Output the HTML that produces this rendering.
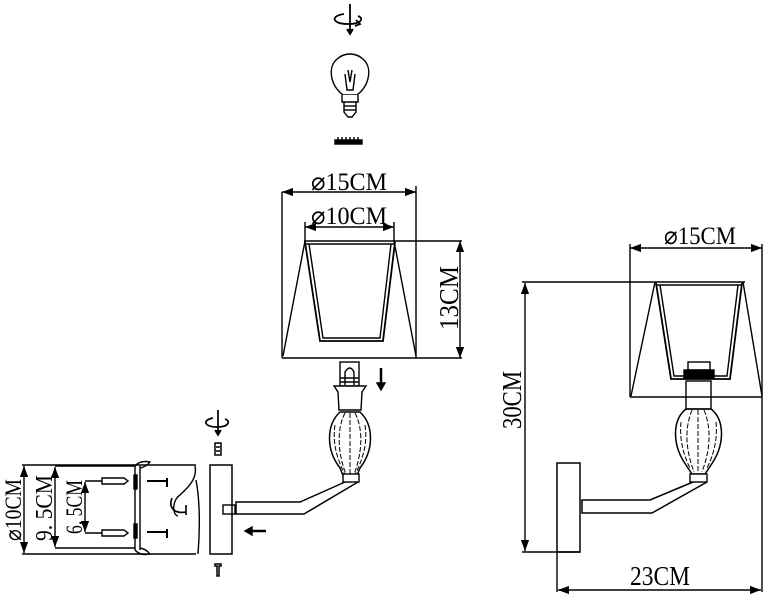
<!DOCTYPE html>
<html><head><meta charset="utf-8"><style>
html,body{margin:0;padding:0;background:#fff;}
svg{display:block;}
text{font-family:"Liberation Serif",serif;fill:#000;}
</style></head><body>
<svg width="767" height="600" viewBox="0 0 767 600" xmlns="http://www.w3.org/2000/svg" fill="none" stroke="#000" stroke-width="1.4">
<defs>
<marker id="a" markerWidth="8" markerHeight="6" refX="8" refY="3" orient="auto-start-reverse"><path d="M0,0 L8,3 L0,6 Z" fill="#000" stroke="none"/></marker>
</defs>

<!-- top rotate icon + bulb -->
<g stroke-width="1.8">
<line x1="350" y1="4" x2="350" y2="32"/>
<path d="M344,14 C330,16 332,24 348,24 C362,24 364,18 358,16"/>
<path d="M356,20 l4,4 l-5,2"/>
<path d="M347,29 L350,34 L353,29" fill="#000"/>
</g>
<path d="M343,95 C330,85 328,68 336,60 C344,52 356,52 364,60 C372,68 370,85 357,95 Z" stroke-width="1.4"/>
<path d="M342,95 L342,102 L358,102 L358,95" fill="#fff"/>
<path d="M344,102 L344,112 L348,117 L352,117 L356,112 L356,102"/>
<line x1="344" y1="106" x2="356" y2="106"/><line x1="344" y1="110" x2="356" y2="110"/>
<path d="M345,74 L347,90 L353,90 L355,74 M348,70 L350,82 L352,70"/>
<rect x="335" y="140" width="27" height="4" fill="#000"/>
<path d="M338,140 v-3 M342,140 v-3 M346,140 v-3 M350,140 v-3 M354,140 v-3 M358,140 v-3"/>

<!-- middle shade -->
<line x1="282" y1="192" x2="416" y2="192" marker-start="url(#a)" marker-end="url(#a)"/>
<line x1="282" y1="192" x2="282" y2="358"/>
<line x1="416" y1="186" x2="416" y2="358"/>
<line x1="282" y1="358" x2="462" y2="358" stroke-width="1.6"/>
<line x1="305" y1="227" x2="394" y2="227" marker-start="url(#a)" marker-end="url(#a)"/>
<line x1="305" y1="222" x2="305" y2="241"/><line x1="394" y1="222" x2="394" y2="241"/>
<line x1="304" y1="241" x2="462" y2="241"/>
<line x1="306" y1="244" x2="394" y2="244"/>
<line x1="460" y1="241" x2="460" y2="358" marker-start="url(#a)" marker-end="url(#a)"/>
<path d="M305,241 L283,356 M394,241 L416,356"/>
<path d="M305,242 L320,341 L383,341 L395,242" stroke-width="1.8"/>
<path d="M309,244 L323,338 L380,338 L391,244"/>
<text x="349" y="190" font-size="25" text-anchor="middle" stroke="none" textLength="76" lengthAdjust="spacingAndGlyphs">⌀15CM</text>
<text x="349" y="224" font-size="25" text-anchor="middle" stroke="none" textLength="76" lengthAdjust="spacingAndGlyphs">⌀10CM</text>
<text transform="translate(458,298) rotate(-90)" font-size="27" text-anchor="middle" stroke="none" textLength="64" lengthAdjust="spacingAndGlyphs">13CM</text>

<!-- middle socket + glass -->
<rect x="340" y="362" width="19" height="24"/>
<path d="M345,385 V372 q5,-8 9,0 V385"/>
<line x1="340" y1="378" x2="359" y2="378"/><line x1="340" y1="382" x2="359" y2="382"/>
<path d="M334,386 L366,386 L362,392 L361,410 L339,410 L338,392 Z" fill="#fff"/>
<line x1="381" y1="368" x2="381" y2="384" stroke-width="2.5"/>
<path d="M377,383 L381,390 L385,383 Z" fill="#000"/>
<path d="M340,412 C326,425 326,450 340,468 L344,478 L356,478 L360,468 C374,450 374,425 360,412 Z" stroke-width="1.5"/>
<path d="M345,413 C336,430 338,455 347,477 M355,413 C364,430 362,455 353,477 M350,413 V477 M335,425 C332,445 338,460 345,475 M365,425 C368,445 362,460 355,475" stroke-dasharray="5 2" stroke-width="1"/>
<rect x="343" y="474" width="16" height="8" fill="#fff"/>

<!-- arm middle -->
<path d="M345,482 L300,502 L236,502 L236,514 L304,514 L358,482" stroke-width="1.5"/>
<rect x="223" y="505" width="12" height="9"/>
<rect x="210" y="465" width="22" height="89" stroke-width="1.5"/>
<line x1="248" y1="531" x2="266" y2="531" stroke-width="2.5"/>
<path d="M252,527 L245,531 L252,535 Z" fill="#000"/>
<g stroke-width="1.7">
<line x1="218" y1="410" x2="218" y2="434"/>
<path d="M213,418 C202,420 204,427 217,427 C229,427 231,421 225,419"/>
<path d="M215,430 L218,435 L221,430" fill="#000"/>
</g>
<path d="M215,443 h6 v12 h-6 z M216,447 h4 M216,451 h4" stroke-width="1.5"/>
<path d="M215,564 h6 v2 h-2 v10 h-2 v-10 h-2 z" stroke-width="1.5"/>

<!-- left detail -->
<line x1="22" y1="465" x2="196" y2="465" stroke-width="1.5"/>
<line x1="22" y1="554" x2="196" y2="554" stroke-width="1.5"/>
<line x1="24" y1="466" x2="24" y2="553" marker-start="url(#a)" marker-end="url(#a)"/>
<line x1="55" y1="467" x2="55" y2="547" marker-start="url(#a)" marker-end="url(#a)"/>
<line x1="55" y1="466" x2="135" y2="466"/><line x1="55" y1="548" x2="135" y2="548"/>
<line x1="85" y1="482" x2="85" y2="532" marker-start="url(#a)" marker-end="url(#a)"/>
<line x1="85" y1="481" x2="102" y2="481"/><line x1="85" y1="533" x2="102" y2="533"/>
<path d="M102,478 h22 l4,3 l-4,3 h-22 z M102,530 h22 l4,3 l-4,3 h-22 z"/>
<path d="M135,466 V550 M140,466 V550 M135,466 q5,-6 15,-4 q-4,5 -10,6 M135,550 q5,6 15,4 q-4,-5 -10,-6"/>
<rect x="134" y="475" width="3" height="14" fill="#000"/>
<rect x="134" y="524" width="3" height="14" fill="#000"/>
<path d="M147,481 h20 v-3 v9 v-3 M147,532 h20 v-3 v9 v-3" stroke-width="2"/>
<path d="M195,466 C198,480 185,490 180,495 C172,500 172,515 178,516"/>
<path d="M172,498 C168,508 175,514 186,512 M186,505 v10" stroke-width="1.6"/>
<path d="M196,480 C200,500 200,530 198,554"/>
<text transform="translate(21,510) rotate(-90)" font-size="23" text-anchor="middle" stroke="none" textLength="62" lengthAdjust="spacingAndGlyphs">⌀10CM</text>
<text transform="translate(52,508) rotate(-90)" font-size="24" text-anchor="middle" stroke="none" textLength="66" lengthAdjust="spacingAndGlyphs">9. 5CM</text>
<text transform="translate(82,507) rotate(-90)" font-size="23" text-anchor="middle" stroke="none" textLength="54" lengthAdjust="spacingAndGlyphs">6. 5CM</text>

<!-- right view -->
<line x1="630" y1="248" x2="762" y2="248" marker-start="url(#a)" marker-end="url(#a)"/>
<line x1="630" y1="244" x2="630" y2="397"/>
<line x1="762" y1="244" x2="762" y2="592"/>
<line x1="630" y1="397" x2="762" y2="397" stroke-width="1.5"/>
<text x="700" y="244" font-size="25" text-anchor="middle" stroke="none" textLength="72" lengthAdjust="spacingAndGlyphs">⌀15CM</text>
<line x1="522" y1="282" x2="745" y2="282"/>
<line x1="656" y1="285" x2="742" y2="285"/>
<line x1="525" y1="283" x2="525" y2="551" marker-start="url(#a)" marker-end="url(#a)"/>
<line x1="522" y1="552" x2="580" y2="552"/>
<text transform="translate(521,400) rotate(-90)" font-size="27" text-anchor="middle" stroke="none" textLength="58" lengthAdjust="spacingAndGlyphs">30CM</text>
<path d="M655,282 L631,396 M743,282 L762,396"/>
<path d="M656,283 L671,379 L730,379 L742,283" stroke-width="1.8"/>
<path d="M660,285 L674,376 L727,376 L738,285"/>
<rect x="688" y="362" width="22" height="8"/>
<rect x="684" y="370" width="30" height="8" fill="#000"/>
<rect x="686" y="381" width="25" height="28"/>
<path d="M686,409 C672,420 672,445 686,465 L692,474 L705,474 L711,465 C725,445 725,420 711,409 Z" stroke-width="1.5"/>
<path d="M692,410 C684,430 686,450 694,472 M704,410 C712,430 710,450 702,472 M698,410 V472 M681,422 C679,442 685,458 690,468 M716,422 C718,442 712,458 707,468" stroke-dasharray="5 2" stroke-width="1"/>
<rect x="690" y="474" width="17" height="8" fill="#fff"/>
<path d="M693,482 L650,500 L582,500 L582,513 L652,513 L707,482" stroke-width="1.5"/>
<rect x="557" y="463" width="23" height="89" stroke-width="1.5"/>
<line x1="557" y1="552" x2="557" y2="592"/>
<line x1="558" y1="590" x2="761" y2="590" marker-start="url(#a)" marker-end="url(#a)"/>
<text x="660" y="585" font-size="27" text-anchor="middle" stroke="none" textLength="60" lengthAdjust="spacingAndGlyphs">23CM</text>
</svg>
</body></html>
